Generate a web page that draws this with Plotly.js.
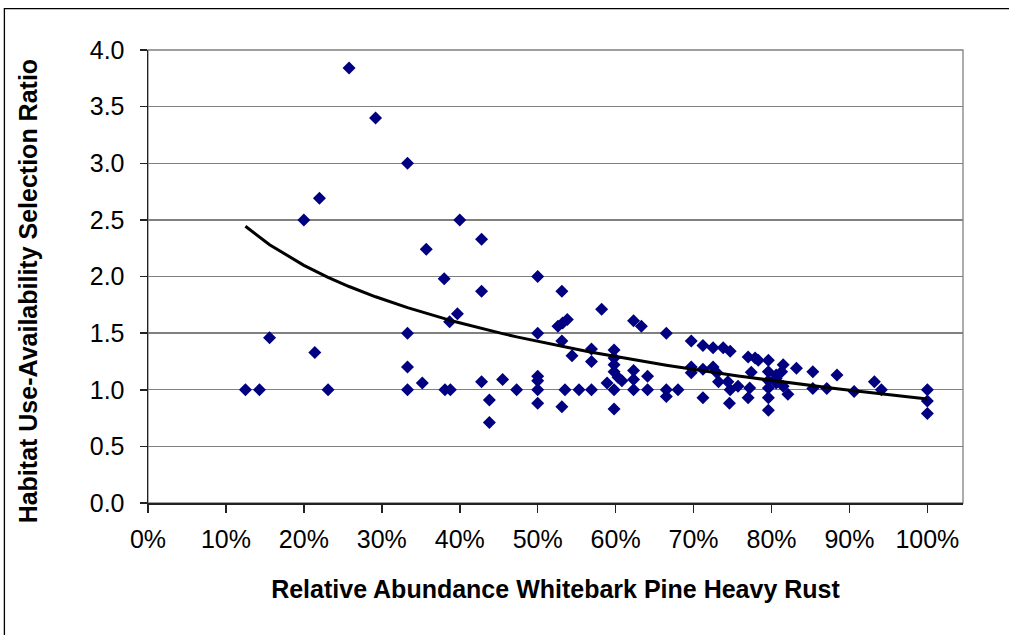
<!DOCTYPE html>
<html>
<head>
<meta charset="utf-8">
<script src="https://cdn.plot.ly/plotly-3.0.1.min.js"></script>
<style>
  html, body { margin: 0; padding: 0; background: #fff; }
  #chart { width: 1009px; height: 635px; }
</style>
</head>
<body>
<div id="chart"></div>
<script>
// Relative abundance of heavily rusted whitebark pine (fraction) per sample
const rustAbundance = [
  0.125, 0.143, 0.156, 0.200, 0.214, 0.220, 0.231, 0.258, 0.292, 0.333,
  0.333, 0.333, 0.333, 0.352, 0.357, 0.380, 0.381, 0.388, 0.387, 0.397,
  0.400, 0.428, 0.428, 0.428, 0.438, 0.438, 0.455, 0.473, 0.500, 0.500,
  0.500, 0.500, 0.500, 0.500, 0.531, 0.526, 0.532, 0.538, 0.531, 0.531,
  0.535, 0.544, 0.553, 0.569, 0.569, 0.569, 0.582, 0.589, 0.598, 0.598,
  0.598, 0.598, 0.598, 0.598, 0.603, 0.608, 0.623, 0.623, 0.623, 0.623,
  0.633, 0.641, 0.641, 0.665, 0.665, 0.665, 0.680, 0.697, 0.697, 0.697,
  0.712, 0.712, 0.712, 0.725, 0.725, 0.730, 0.732, 0.738, 0.747, 0.744,
  0.747, 0.746, 0.757, 0.770, 0.772, 0.770, 0.774, 0.779, 0.783, 0.796,
  0.796, 0.796, 0.796, 0.796, 0.796, 0.806, 0.806, 0.806, 0.813, 0.815,
  0.815, 0.821, 0.832, 0.853, 0.853, 0.871, 0.884, 0.906, 0.932, 0.941,
  1.000, 1.000, 1.000
];

// Habitat use-availability selection ratio for the same samples
const selectionRatio = [
  1.00, 1.00, 1.46, 2.50, 1.33, 2.69, 1.00, 3.84, 3.40, 3.00,
  1.50, 1.20, 1.00, 1.06, 2.24, 1.98, 1.00, 1.00, 1.60, 1.67,
  2.50, 2.33, 1.87, 1.07, 0.91, 0.71, 1.09, 1.00, 2.00, 1.50,
  1.12, 1.08, 1.00, 0.88, 1.87, 1.56, 1.59, 1.62, 1.43, 0.85,
  1.00, 1.30, 1.00, 1.36, 1.25, 1.00, 1.71, 1.06, 1.35, 1.28,
  1.22, 1.16, 1.00, 0.83, 1.11, 1.08, 1.61, 1.17, 1.09, 1.00,
  1.56, 1.12, 1.00, 1.50, 1.00, 0.94, 1.00, 1.43, 1.20, 1.15,
  1.39, 1.18, 0.93, 1.37, 1.20, 1.15, 1.07, 1.37, 1.34, 1.07,
  1.00, 0.88, 1.03, 1.29, 1.015, 0.93, 1.155, 1.28, 1.26, 1.26,
  1.16, 1.08, 1.015, 0.93, 0.82, 1.13, 1.06, 1.10, 1.16, 1.22,
  1.03, 0.96, 1.19, 1.16, 1.01, 1.01, 1.13, 0.985, 1.07, 1.00,
  1.00, 0.90, 0.79
];

// Logarithmic trend line coefficients: ratio = trendIntercept + trendSlope * ln(abundance)
const trendIntercept = 0.918;
const trendSlope = -0.7335;

// Axis tick positions and labels
const xTickVals = [0, 0.1, 0.2, 0.3, 0.4, 0.5, 0.6, 0.7, 0.8, 0.9, 1.0];
const xTickText = ['0%', '10%', '20%', '30%', '40%', '50%', '60%', '70%', '80%', '90%', '100%'];
const yTickVals = [0, 0.5, 1.0, 1.5, 2.0, 2.5, 3.0, 3.5, 4.0];
const yTickText = ['0.0', '0.5', '1.0', '1.5', '2.0', '2.5', '3.0', '3.5', '4.0'];

// Trend evaluated at each distinct abundance in the data, in order
const trendX = Array.from(new Set(rustAbundance)).sort((p, q) => p - q);
const trendY = trendX.map(v => trendIntercept + trendSlope * Math.log(v));

const FONT = '"Liberation Sans", Arial, sans-serif';

const traces = [
  {
    type: 'scatter', mode: 'markers',
    x: rustAbundance, y: selectionRatio,
    marker: { symbol: 'diamond', size: 10, color: '#000080', line: { width: 0 } },
    hoverinfo: 'x+y', showlegend: false
  },
  {
    type: 'scatter', mode: 'lines',
    x: trendX, y: trendY,
    line: { color: '#000000', width: 3 },
    hoverinfo: 'skip', showlegend: false
  }
];

const layout = {
  width: 1009, height: 635,
  margin: { l: 148, r: 46, t: 50, b: 131.5 },
  paper_bgcolor: '#ffffff', plot_bgcolor: '#ffffff',
  font: { family: FONT, color: '#000000' },
  showlegend: false,
  xaxis: {
    range: [0, 1.0457], autorange: false,
    tickmode: 'array', tickvals: xTickVals, ticktext: xTickText,
    ticks: 'outside', ticklen: 8, tickwidth: 1.5, tickcolor: '#222',
    showline: true, linecolor: '#222', linewidth: 1.5,
    showgrid: false, zeroline: false,
    tickfont: { family: FONT, size: 25, color: '#000' },
    ticklabelstandoff: 5,
    title: { text: 'Relative Abundance Whitebark Pine Heavy Rust', font: { family: FONT, size: 25, weight: 'bold', color: '#000' }, standoff: 29 }
  },
  yaxis: {
    range: [0, 4], autorange: false,
    tickmode: 'array', tickvals: yTickVals, ticktext: yTickText,
    ticks: 'outside', ticklen: 7, tickwidth: 1.5, tickcolor: '#222',
    showline: true, linecolor: '#222', linewidth: 1.5,
    showgrid: true, gridcolor: '#808080', gridwidth: 1.3,
    zeroline: false,
    tickfont: { family: FONT, size: 25, color: '#000' },
    ticklabelstandoff: 10
  },
  annotations: [
    // vertical axis title, placed beside the tick labels
    { text: 'Habitat Use-Availability Selection Ratio', textangle: -90,
      xref: 'paper', yref: 'paper', x: -0.1468, y: 0.468,
      xanchor: 'center', yanchor: 'middle', showarrow: false,
      font: { family: FONT, size: 25, weight: 'bold', color: '#000' } }
  ],
  shapes: [
    // plot area border (right edge is visible; top coincides with the 4.0 grid line)
    { type: 'rect', xref: 'paper', yref: 'paper', x0: 0, x1: 1, y0: 0, y1: 1,
      line: { color: '#808080', width: 1.3 }, layer: 'below' },
    // outer chart frame
    { type: 'rect', xref: 'paper', yref: 'paper', x0: -0.1762, x1: 1.06, y0: -0.30, y1: 1.0914,
      line: { color: '#000000', width: 1.3 }, layer: 'above' }
  ]
};

Plotly.newPlot('chart', traces, layout, { displayModeBar: false, staticPlot: true });
</script>
</body>
</html>
